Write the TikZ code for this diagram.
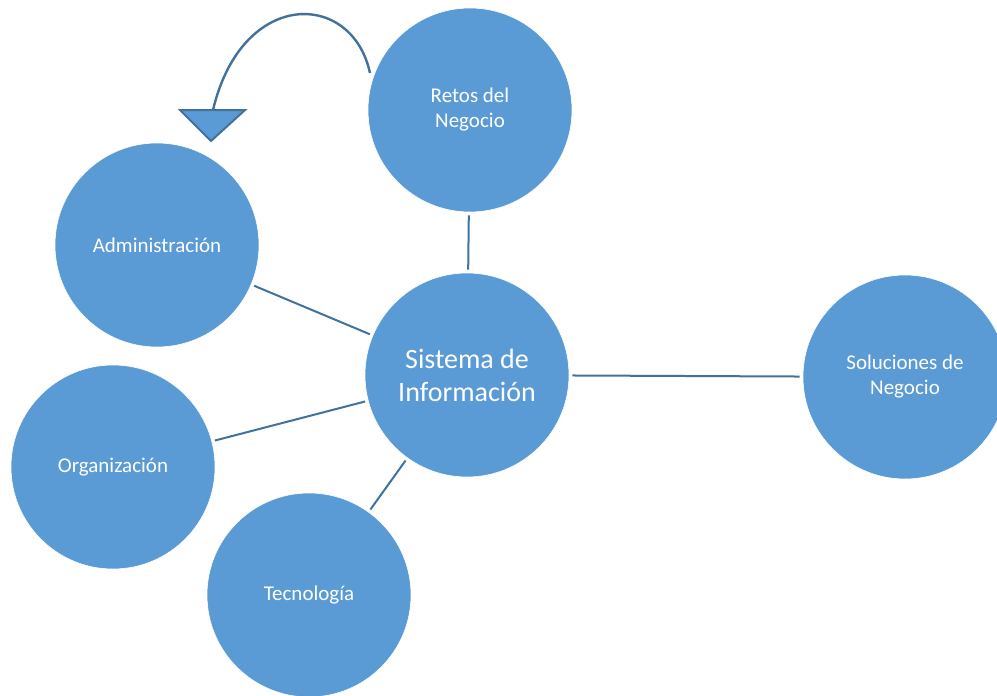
\documentclass[tikz,border=0pt]{standalone}
\usepackage{fontspec}
\setmainfont{Carlito}
\definecolor{bubble}{HTML}{5B9BD5}
\definecolor{linkc}{HTML}{41719C}
\begin{document}
\begin{tikzpicture}[x=1pt,y=-1pt,
  bubble/.style={circle,fill=bubble,draw=white,line width=0.6pt,minimum size=204pt,inner sep=0pt,
    text=white,align=center,font=\fontsize{21}{25}\selectfont},
  hub/.style={bubble,font=\fontsize{28}{33}\selectfont},
  link/.style={draw=linkc,line width=2pt,shorten <=3pt,shorten >=3pt},
  loopline/.style={draw=linkc,line width=2.4pt},
  tipshape/.style={draw=linkc,fill=bubble,line width=2pt,line join=miter}]
\useasboundingbox (0,0) rectangle (997,696);
\clip (0,0) rectangle (997,696);

% circles
\node[bubble] (retos) at (470,110) {Retos del\\Negocio};
\node[bubble] (admin) at (157,245) {Administración};
\node[hub] (sis) at (467,375) {Sistema de\\Información};
\node[bubble] (sol) at (905,377) {Soluciones de\\Negocio};
\node[bubble] (org) at (113,467) {Organización};
\node[bubble] (tec) at (309,595) {Tecnología};

% connectors to the hub
\draw[link] (retos) -- (sis);
\draw[link] (admin) -- (sis);
\draw[link] (org) -- (sis);
\draw[link] (tec) -- (sis);
\draw[link] (sis) -- (sol);

% curved arrow from the business challenges
\coordinate (arcstart) at (370,73);
\coordinate (arcend) at (213,110);
\draw[loopline] (arcstart) .. controls (352,-10) and (242,-12) .. (arcend);
\coordinate (tl) at (180,110);
\coordinate (tr) at (245,110);
\coordinate (tb) at (211,141);
\draw[tipshape] (tl) -- (tr) -- (tb) -- cycle;
\end{tikzpicture}
\end{document}
